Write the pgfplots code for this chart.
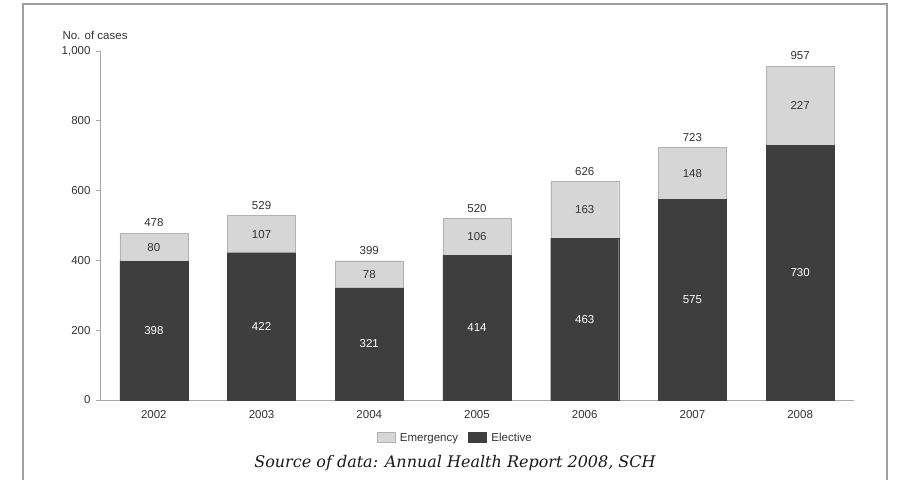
\documentclass[border=0pt]{standalone}
\usepackage{pgfplots}
\pgfplotsset{compat=1.18}
\usepackage{fontspec}
\setmainfont{Liberation Sans}
\newfontfamily\srcfont{DejaVu Serif}
\definecolor{elec}{HTML}{3E3E3E}
\definecolor{emer}{HTML}{D6D6D6}
\definecolor{txt}{HTML}{333333}
\begin{document}
\begin{tikzpicture}[x=1pt,y=1pt]
\useasboundingbox (0,0) rectangle (898,480);
\fill[white] (0,0) rectangle (898,480);
\draw[gray!75, line width=1.2pt] (23,0) -- (23,476) -- (887,476) -- (887,0);
\begin{axis}[
  at={(100pt,80pt)}, anchor=south west, scale only axis,
  width=754pt, height=349pt,
  xmin=-0.5, xmax=6.5, ymin=0, ymax=1000,
  axis x line*=bottom, axis y line*=left,
  axis line style={gray!70, line width=0.6pt},
  tick style={gray!70, line width=0.6pt},
  tick align=outside,
  ytick={0,200,400,600,800,1000},
  yticklabels={0,200,400,600,800,{1,000}},
  major tick length=4pt,
  xtick={0,1,2,3,4,5,6},
  xticklabels={2002,2003,2004,2005,2006,2007,2008},
  x tick style={draw=none},
  minor xtick={0.5,1.5,2.5,3.5,4.5,5.5},
  minor x tick style={gray!70, line width=0.6pt},
  minor tick length=4pt,
  tick label style={font=\fontsize{11.5}{13}\selectfont, text=txt},
  xticklabel style={yshift=-3pt},
  yticklabel style={xshift=-2pt},
  legend columns=2,
  legend style={draw=none, fill=none, at={(0.471,-0.109)}, anchor=center,
    font=\fontsize{11.5}{13}\selectfont, text=txt,
    /tikz/every odd column/.append style={column sep=3pt},
    /tikz/every even column/.append style={column sep=8pt}},
  legend image code/.code={\draw[#1] (0pt,-4pt) rectangle (18pt,6pt);},
]
\addplot[ybar, bar width=68pt, bar shift=0pt, fill=emer, draw=gray!60] coordinates {
 (0,478) (1,529) (2,399) (3,520) (4,626) (5,723) (6,957)};
\addlegendentry{Emergency}
\addplot[ybar, bar width=68pt, bar shift=0pt, fill=elec, draw=elec] coordinates {
 (0,398) (1,422) (2,321) (3,414) (4,463) (5,575) (6,730)};
\addlegendentry{Elective}
% elective labels (middle of segment)
\addplot[draw=none, mark=none, forget plot, nodes near coords, point meta=explicit symbolic,
  nodes near coords style={anchor=center, font=\fontsize{11.5}{13}\selectfont, text=white}]
  table[meta=l] {
x y l
0 199 398
1 211 422
2 160.5 321
3 207 414
4 231.5 463
5 287.5 575
6 365 730
};
% emergency labels
\addplot[draw=none, mark=none, forget plot, nodes near coords, point meta=explicit symbolic,
  nodes near coords style={anchor=center, font=\fontsize{11.5}{13}\selectfont, text=txt}]
  table[meta=l] {
x y l
0 438 80
1 475.5 107
2 360 78
3 467 106
4 544.5 163
5 649 148
6 843.5 227
};
% totals
\addplot[draw=none, mark=none, forget plot, nodes near coords, point meta=explicit symbolic,
  nodes near coords style={anchor=south, inner sep=0pt, yshift=6pt, font=\fontsize{11.5}{13}\selectfont, text=txt}]
  table[meta=l] {
x y l
0 478 478
1 529 529
2 399 399
3 520 520
4 626 626
5 723 723
6 957 957
};
\end{axis}
\node[anchor=west, font=\fontsize{11.5}{13}\selectfont, text=txt] at (59,445) {No. of cases};
\node[font=\srcfont\itshape\fontsize{16}{19}\selectfont, text=black!90] at (455,17) {Source of data: Annual Health Report 2008, SCH};
\end{tikzpicture}
\end{document}
